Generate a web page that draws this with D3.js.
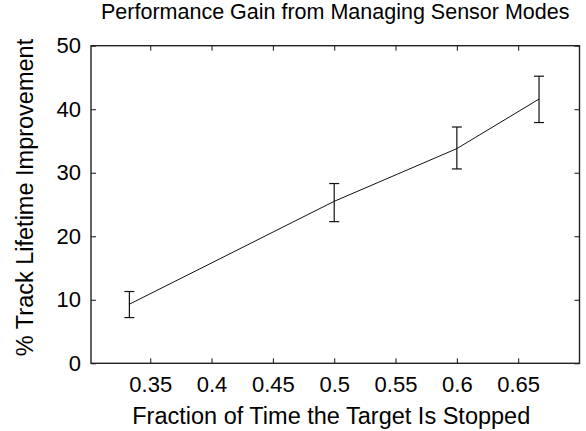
<!DOCTYPE html>
<html>
<head>
<meta charset="utf-8">
<script src="https://cdn.jsdelivr.net/npm/d3@7"></script>
<style>
  body { margin: 0; background: #fff; }
  svg { display: block; font-family: "Liberation Sans", Arial, sans-serif; }
  .domain { display: none; }
</style>
</head>
<body>
<div class="svg"></div>
<script>
// data
var fractions = [0.333, 0.5, 0.6, 0.667];
var gains = [9.3, 25.5, 33.8, 41.6];
var gainLow = [7.2, 22.3, 30.6, 37.9];
var gainHigh = [11.3, 28.3, 37.2, 45.2];

var xTicks = [0.35, 0.4, 0.45, 0.5, 0.55, 0.6, 0.65];
var xTickLabels = ["0.35", "0.4", "0.45", "0.5", "0.55", "0.6", "0.65"];
var yTicks = [0, 10, 20, 30, 40, 50];
var yTickLabels = ["0", "10", "20", "30", "40", "50"];

var titleText = "Performance Gain from Managing Sensor Modes";
var xLabelText = "Fraction of Time the Target Is Stopped";
var yLabelText = "% Track Lifetime Improvement";

var chartWidth = 586, chartHeight = 431;
// plot box edges (note: "top" is a reserved window global, so use other names)
var boxLeft = 91, boxRight = 579.5, boxTop = 45.7, boxBottom = 363.3;

var svg = d3.select(".svg").append("svg").attr("width", chartWidth).attr("height", chartHeight);
svg.append("rect").attr("width", chartWidth).attr("height", chartHeight).attr("fill", "#fff");

var x = d3.scaleLinear().domain([0.3017, 0.7]).range([boxLeft, boxRight]);
var y = d3.scaleLinear().domain([0, 50]).range([boxBottom, boxTop]);

// ticks point inward on all four sides
svg.append("g").attr("transform", "translate(0," + boxBottom + ")")
    .call(d3.axisBottom(x).tickValues(xTicks).tickSize(-5).tickPadding(13)
        .tickFormat(function(d, i) { return xTickLabels[i]; }));
svg.append("g").attr("transform", "translate(0," + boxTop + ")")
    .call(d3.axisTop(x).tickValues(xTicks).tickSize(-5).tickFormat(""));
svg.append("g").attr("transform", "translate(" + boxLeft + ",0)")
    .call(d3.axisLeft(y).tickValues(yTicks).tickSize(-5).tickPadding(10)
        .tickFormat(function(d, i) { return yTickLabels[i]; }));
svg.append("g").attr("transform", "translate(" + boxRight + ",0)")
    .call(d3.axisRight(y).tickValues(yTicks).tickSize(-5).tickFormat(""));

svg.selectAll(".tick line").attr("stroke", "#111").attr("stroke-width", 1);
svg.selectAll(".tick text").attr("font-size", "22px").attr("fill", "#000")
    .attr("font-family", "'Liberation Sans', Arial, sans-serif");

// box
svg.append("rect").attr("x", boxLeft).attr("y", boxTop).attr("width", boxRight - boxLeft).attr("height", boxBottom - boxTop)
    .attr("fill", "none").attr("stroke", "#222").attr("stroke-width", 1.4);

// line through the means
var line = d3.line().x(function(d, i) { return x(fractions[i]); }).y(function(d) { return y(d); });
svg.append("path").datum(gains).attr("d", line).attr("fill", "none").attr("stroke", "#111").attr("stroke-width", 1);

// error bars
var capHalf = 5;
var bars = svg.append("g").attr("stroke", "#111").attr("stroke-width", 1.2);
fractions.forEach(function(f, i) {
    var cx = x(f);
    bars.append("line").attr("x1", cx).attr("x2", cx).attr("y1", y(gainLow[i])).attr("y2", y(gainHigh[i]));
    bars.append("line").attr("x1", cx - capHalf).attr("x2", cx + capHalf).attr("y1", y(gainLow[i])).attr("y2", y(gainLow[i]));
    bars.append("line").attr("x1", cx - capHalf).attr("x2", cx + capHalf).attr("y1", y(gainHigh[i])).attr("y2", y(gainHigh[i]));
});

// labels
svg.append("text").attr("x", (boxLeft + boxRight) / 2).attr("y", 18.5).attr("text-anchor", "middle")
    .attr("font-size", "21.5px").attr("fill", "#000").text(titleText);
svg.append("text").attr("x", (boxLeft + boxRight) / 2 - 4).attr("y", 424).attr("text-anchor", "middle")
    .attr("font-size", "23.5px").attr("fill", "#000").text(xLabelText);
svg.append("text").attr("transform", "translate(33," + ((boxTop + boxBottom) / 2 - 7) + ") rotate(-90)")
    .attr("text-anchor", "middle").attr("font-size", "23.5px").attr("fill", "#000").text(yLabelText);
</script>
</body>
</html>
